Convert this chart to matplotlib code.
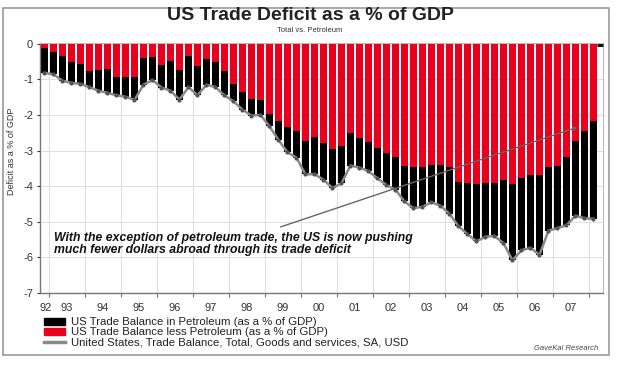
import numpy as np
import matplotlib.pyplot as plt
import matplotlib.patches as patches
from matplotlib.lines import Line2D

plt.rcParams['font.family'] = ['Liberation Sans', 'DejaVu Sans']
plt.rcParams['axes.unicode_minus'] = False

# quarterly data, Q4 1992 .. Q1 2008 (% of GDP)
first_quarter = 1992.875
less_petroleum = [
    -0.11, -0.24, -0.35, -0.50, -0.57, -0.78, -0.74, -0.70, -0.93, -0.94,
    -0.93, -0.39, -0.37, -0.60, -0.48, -0.74, -0.34, -0.63, -0.42, -0.50,
    -0.76, -1.13, -1.37, -1.56, -1.57, -1.98, -2.17, -2.34, -2.45, -2.74,
    -2.61, -2.78, -2.95, -2.86, -2.51, -2.64, -2.76, -2.94, -3.08, -3.19,
    -3.44, -3.45, -3.47, -3.40, -3.40, -3.46, -3.87, -3.92, -3.95, -3.90,
    -3.90, -3.83, -3.95, -3.78, -3.70, -3.70, -3.45, -3.44, -3.18, -2.72,
    -2.46, -2.17,
]
total = [
    -0.82, -0.86, -1.04, -1.10, -1.13, -1.22, -1.32, -1.38, -1.45, -1.49,
    -1.58, -1.15, -1.02, -1.23, -1.32, -1.57, -1.22, -1.45, -1.15, -1.22,
    -1.45, -1.62, -1.85, -2.02, -2.00, -2.32, -2.70, -3.05, -3.20, -3.67,
    -3.66, -3.82, -4.05, -3.92, -3.42, -3.48, -3.58, -3.78, -3.97, -4.10,
    -4.43, -4.62, -4.58, -4.45, -4.55, -4.78, -5.12, -5.35, -5.55, -5.42,
    -5.40, -5.60, -6.08, -5.80, -5.73, -5.93, -5.25, -5.18, -5.10, -4.83,
    -4.90, -4.92,
]
year_labels = ['92', '93', '94', '95', '96', '97', '98', '99',
               '00', '01', '02', '03', '04', '05', '06', '07']

x = first_quarter + 0.25 * np.arange(len(total))

fig = plt.figure(figsize=(6.2, 3.7), dpi=100)
ax = fig.add_axes([0.0645, 0.2081, 0.9081, 0.6757])

# black = petroleum part (bar down to total), red = non-petroleum on top
ax.bar(x, total, width=0.17, color='#000000', zorder=2)
ax.bar(x, less_petroleum, width=0.17, color='#e8001c', zorder=3)
ax.plot(x, total, color='#8a8a8a', lw=1.8, zorder=4,
        marker='o', ms=2, mfc='#555555', mec='#555555')

ax.set_xlim(1992.75, 2008.39)
ax.set_ylim(-7, 0.02)

# axes styling
ax.set_yticks(range(-7, 1))
ax.set_yticklabels([str(v) for v in range(-7, 1)])
ax.set_xticks(np.arange(1993, 2009))
ax.set_xticklabels([])
label_pos = [1992.9] + [y + 0.5 for y in range(1993, 2008)]
ax.set_xticks(label_pos, minor=True)
ax.set_xticklabels(year_labels, minor=True)
ax.tick_params(axis='x', which='minor', length=0, labelsize=8, colors='#333333', pad=7)
ax.tick_params(axis='x', which='major', length=3, direction='out', color='#777777')
ax.tick_params(axis='y', length=2, labelsize=8, colors='#333333', pad=3)
ax.grid(True, which='major', color='#e0e0e0', lw=0.8, zorder=0)
ax.set_axisbelow(True)
for s in ['left', 'bottom']:
    ax.spines[s].set_color('#777777')
    ax.spines[s].set_linewidth(1.0)
for s in ['top', 'right']:
    ax.spines[s].set_color('#bbbbbb')
    ax.spines[s].set_linewidth(0.8)

fig.text(0.019, 0.59, 'Deficit as a % of GDP', rotation=90, fontsize=6.5,
         ha='center', va='center', color='#333333')

# titles
fig.text(0.5, 0.957, 'US Trade Deficit as a % of GDP', fontsize=14,
         fontweight='bold', ha='center', va='center', color='#222222')
fig.text(0.5, 0.918, 'Total vs. Petroleum', fontsize=5.5,
         ha='center', va='center', color='#333333')

# annotation with pointer line
ax.annotate('', xy=(2007.75, -2.32), xytext=(1999.36, -5.17),
            arrowprops=dict(arrowstyle='-|>', color='#666666', lw=1.0,
                            mutation_scale=5), zorder=5)
ax.text(1993.15, -5.3,
        'With the exception of petroleum trade, the US is now pushing\n'
        'much fewer dollars abroad through its trade deficit',
        fontsize=8.8, fontweight='bold', fontstyle='italic', ha='left',
        va='top', linespacing=0.95, color='#111111', zorder=6)
# tiny marker at top right corner as in source
ax.plot([2008.3], [-0.04], marker='_', color='#000000', ms=4, mew=2,
        clip_on=False, zorder=6)

# legend under the plot
handles = [patches.Patch(color='#000000'), patches.Patch(color='#e8001c'),
           Line2D([0], [0], color='#8a8a8a', lw=2.5)]
labels = ['US Trade Balance in Petroleum (as a % of GDP)',
          'US Trade Balance less Petroleum (as a % of GDP)',
          'United States, Trade Balance, Total, Goods and services, SA, USD']
fig.legend(handles, labels, loc='upper left', bbox_to_anchor=(0.062, 0.158),
           frameon=False, fontsize=8.2, handlelength=1.8, handleheight=0.55,
           handletextpad=0.6, labelspacing=0.0, borderpad=0,
           labelcolor='#222222')

fig.text(0.965, 0.058, 'GaveKal Research', fontsize=5.5, fontstyle='italic',
         ha='right', va='center', color='#444444')

# outer frame
fig.patches.append(patches.Rectangle((0.005, 0.04), 0.977, 0.938,
                                     transform=fig.transFigure, fill=False,
                                     edgecolor='#999999', lw=1.2))

fig.savefig('out.png', dpi=100)
